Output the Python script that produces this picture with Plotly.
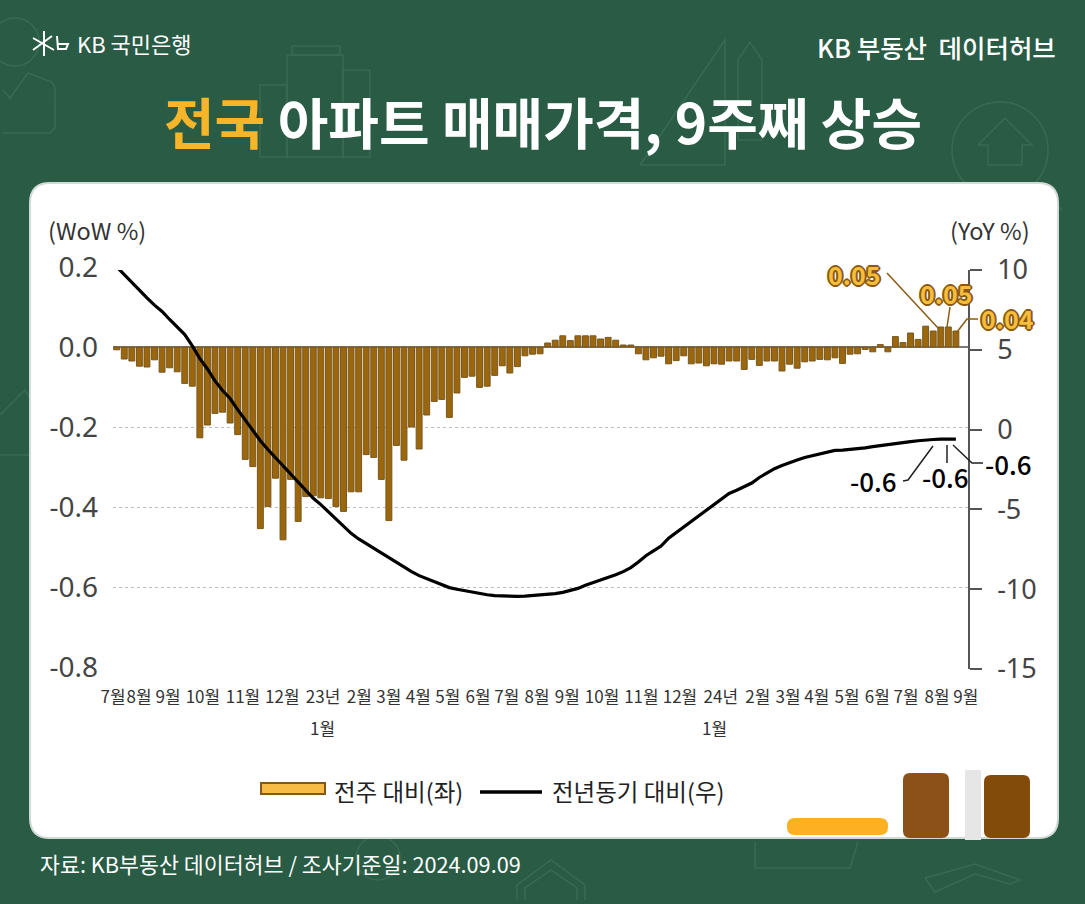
import pandas as pd
import plotly.graph_objects as go
from plotly.subplots import make_subplots

W, H = 1085, 904
GREEN = "#295B45"
ICON = "#386B53"
FONT = "Noto Sans CJK KR"


def px(x):
    return x / W


def py(y):
    return 1 - y / H


def line_shape(points, color, width=1.5, layer="above"):
    """points are pixel pairs of the page, joined into one open path"""
    path = "M " + " L ".join(f"{px(x):.5f},{py(y):.5f}" for x, y in points)
    return dict(type="path", xref="paper", yref="paper", path=path, line=dict(color=color, width=width), layer=layer)


def icon_line(points):
    return line_shape(points, ICON, 1.5, "below")


def box_shape(x0, y0, x1, y1, r, fill, line=None):
    """rounded box given in pixels of the page"""
    rx, ry = r / W, r / H
    l, t, g, b = px(x0), py(y0), px(x1), py(y1)
    path = (f"M {l+rx:.5f},{t:.5f} L {g-rx:.5f},{t:.5f} Q {g:.5f},{t:.5f} {g:.5f},{t-ry:.5f} "
            f"L {g:.5f},{b+ry:.5f} Q {g:.5f},{b:.5f} {g-rx:.5f},{b:.5f} "
            f"L {l+rx:.5f},{b:.5f} Q {l:.5f},{b:.5f} {l:.5f},{b+ry:.5f} "
            f"L {l:.5f},{t-ry:.5f} Q {l:.5f},{t:.5f} {l+rx:.5f},{t:.5f} Z")
    return dict(type="path", xref="paper", yref="paper", path=path, fillcolor=fill, layer="below",
                line=dict(color=line or fill, width=2 if line else 0))


def icon_box(x0, y0, x1, y1):
    return dict(type="rect", xref="paper", yref="paper", x0=px(x0), y0=py(y0), x1=px(x1), y1=py(y1), line=dict(color=ICON, width=1.5), layer="below")


def icon_circle(cx, cy, r):
    return dict(type="circle", xref="paper", yref="paper", x0=px(cx - r), y0=py(cy - r), x1=px(cx + r), y1=py(cy + r), line=dict(color=ICON, width=1.5), layer="below")


def label(x, y, text, size, color, anchor="center", shadow=None, weight=400):
    return dict(xref="paper", yref="paper", x=px(x), y=py(y), text=text, showarrow=False, xanchor=anchor, yanchor="middle",
                font=dict(family=FONT, size=size, color=color, shadow=shadow or "none", weight=weight))


def plot_chart(df: pd.DataFrame, month_ticks: dict) -> None:
    """
    Args:
        df (pd.DataFrame): weekly table with the columns wow, yoy
        month_ticks (dict): week position -> month label

    Writes the page with the WoW bars (left scale) and the YoY line (right scale)
    """
    fig = make_subplots(rows=1, cols=1, specs=[[{"secondary_y": True}]])

    ### Bars
    fig.add_trace(
        go.Bar(x=df.index, y=df["wow"], name="전주 대비(좌)", width=0.78, marker=dict(color="#9C670C", line=dict(color="#75571F", width=1))),
        secondary_y=False
    )

    ### Line
    fig.add_trace(
        go.Scatter(x=df.index, y=df["yoy"], mode="lines", name="전년동기 대비(우)", cliponaxis=False, line=dict(color="black", width=3.2)),
        secondary_y=True
    )

    ### Axes
    fig.update_xaxes(domain=[px(113), px(968)], range=[-0.49, 112.6], tickmode="array", tickvals=list(month_ticks.keys()),
                     ticktext=list(month_ticks.values()), tickangle=0, showgrid=False, showline=False, ticks="", automargin=False,
                     ticklabelstandoff=18, tickfont=dict(family=FONT, size=17, color="#333333"))
    fig.update_layout(
        yaxis=dict(domain=[py(667), py(267)], range=[-0.8, 0.2], tickmode="array", tickvals=[0.2, 0, -0.2, -0.4, -0.6, -0.8], automargin=False,
                   ticktext=["0.2", "0.0", "-0.2", "-0.4", "-0.6", "-0.8"], tickfont=dict(family="Noto Sans", size=28, color="#444444"),
                   ticklabelstandoff=14, gridcolor="#BDBDBD", griddash="dot", gridwidth=1, zeroline=True, zerolinecolor="#7A7A7A", zerolinewidth=2),
        yaxis2=dict(overlaying="free", anchor="x", side="right", domain=[py(669), py(270)], range=[-15, 10], tickmode="array", automargin=False,
                    tickvals=[10, 5, 0, -5, -10, -15], ticktext=["10", "5", "0", "-5", "-10", "-15"], showgrid=False, zeroline=False,
                    showline=True, linecolor="#555555", linewidth=1.5, ticks="outside", ticklen=12, tickcolor="#555555", tickwidth=1.5,
                    ticklabelstandoff=10, tickfont=dict(family="Noto Sans", size=27, color="#444444")),
    )

    ### Panel and decorations
    shapes = [
        # faint icons on the green
        icon_circle(15, 42, 24),
        icon_line([(3, 90), (10, 98), (28, 73), (52, 82), (55, 88), (55, 128), (50, 133), (3, 133)]),
        icon_box(260, 85, 287, 157),
        icon_box(287, 55, 343, 157),
        icon_box(292, 46, 340, 55),
        icon_box(343, 70, 370, 157),
        icon_line([(640, 165), (725, 40), (725, 165), (640, 165)]),
        icon_line([(738, 140), (738, 60), (750, 42), (762, 60), (762, 140), (738, 140)]),
        icon_circle(1000, 150, 48),
        icon_line([(978, 145), (1005, 118), (1032, 145), (1022, 145), (1022, 165), (988, 165), (988, 145), (978, 145)]),
        icon_line([(1035, 183), (1062, 210)]),
        icon_line([(0, 415), (25, 390), (30, 398), (30, 455), (0, 455)]),
        icon_line([(517, 900), (517, 885), (551, 860), (585, 885), (585, 900)]),
        icon_line([(525, 900), (525, 888), (551, 870), (577, 888), (577, 900)]),
        icon_circle(378, 858, 22),
        icon_line([(755, 842), (755, 868), (850, 868), (858, 842)]),
        icon_line([(925, 878), (975, 864), (1020, 880), (1010, 884), (975, 874), (935, 892), (925, 878)]),
        # white panel and its corner blocks
        box_shape(30, 183, 1058, 838, 20, "white", "#D3DBD6"),
        box_shape(787, 818, 888, 835, 8, "#FDB022"),
        box_shape(903, 773, 949, 838, 7, "#8B5119"),
        box_shape(965, 770, 981, 840, 0, "#E6E6E6"),
        box_shape(984, 775, 1030, 838, 7, "#824B0A"),
        # KB mark
        line_shape([(33, 38), (54, 50)], "white", 2),
        line_shape([(33, 50), (52, 36)], "white", 2),
        line_shape([(44, 31), (44, 56)], "white", 2),
        line_shape([(57, 36), (58, 49), (66, 49), (68, 44), (58, 44)], "white", 2),
        # leaders of the bar labels
        line_shape([(887, 273), (938, 328)], "#8A5A14"),
        line_shape([(950, 307), (947, 327)], "#8A5A14"),
        line_shape([(978, 319), (967, 319), (957, 332)], "#8A5A14"),
        # leaders of the line labels
        line_shape([(903, 481), (908, 480), (933, 446)], "#222222"),
        line_shape([(947, 445), (947, 463)], "#222222"),
        line_shape([(953, 445), (972, 463), (983, 463)], "#222222"),
        # legend keys
        dict(type="rect", xref="paper", yref="paper", x0=px(261), y0=py(794), x1=px(325), y1=py(783), fillcolor="#F6BC45", line=dict(color="#85581A", width=2), layer="above"),
        line_shape([(480, 792), (542, 792)], "black", 3.5),
    ]

    outline = ", ".join(f"{a}px {b}px 0 #8A5A14" for a, b in [(-2, 0), (2, 0), (0, -2), (0, 2), (-1, -1), (1, -1), (-1, 1), (1, 1)])
    big_title = "<span style='color:#F7B529'>전국</span> 아파트 매매가격, 9주째 상승"
    annotations = [
        label(543, 120, big_title, 55, "white", weight=700),
        label(75, 43, "KB 국민은행", 22, "white", "left"),
        label(1058, 46, "KB 부동산  데이터허브", 25.5, "white", "right", weight=500),
        label(38, 863, "자료: KB부동산 데이터허브 / 조사기준일: 2024.09.09", 21.7, "white", "left"),
        label(46, 230, "(WoW %)", 23.5, "#333333", "left"),
        label(1032, 230, "(YoY %)", 23.5, "#333333", "right"),
        label(322, 727, "1월", 17, "#333333"),
        label(714, 727, "1월", 17, "#333333"),
        label(854, 274, "0.05", 25, "#F6BE3A", shadow=outline, weight=700),
        label(946, 293, "0.05", 25, "#F6BE3A", shadow=outline, weight=700),
        label(1007, 318, "0.04", 25, "#F6BE3A", shadow=outline, weight=700),
        label(873, 480, "-0.6", 26, "black", weight=500),
        label(945, 477, "-0.6", 26, "black", weight=500),
        label(1008, 463, "-0.6", 26, "black", weight=500),
        label(332, 791, "전주 대비(좌)", 23.5, "#222222", "left"),
        label(550, 791, "전년동기 대비(우)", 23.5, "#222222", "left"),
    ]

    fig.update_layout(width=W, height=H, margin=dict(l=0, r=0, t=0, b=0), paper_bgcolor=GREEN, plot_bgcolor="rgba(0,0,0,0)",
                      showlegend=False, bargap=0.16, shapes=shapes, annotations=annotations)

    fig.write_html("out.html", config={"displayModeBar": False},
                   post_script="document.body.style.margin='0';document.body.style.overflow='hidden';")


wow = [-0.007, -0.03, -0.035, -0.048, -0.05, -0.032, -0.063, -0.052, -0.062, -0.091,
       -0.098, -0.227, -0.195, -0.166, -0.163, -0.19, -0.219, -0.281, -0.299, -0.454,
       -0.399, -0.328, -0.482, -0.331, -0.436, -0.374, -0.372, -0.377, -0.379, -0.399,
       -0.411, -0.362, -0.362, -0.269, -0.276, -0.331, -0.434, -0.246, -0.283, -0.2,
       -0.255, -0.17, -0.136, -0.131, -0.176, -0.115, -0.076, -0.073, -0.101, -0.098,
       -0.071, -0.047, -0.065, -0.049, -0.022, -0.018, -0.017, 0.01, 0.017, 0.028,
       0.016, 0.028, 0.028, 0.028, 0.02, 0.024, 0.017, 0.005, 0.005, -0.017,
       -0.032, -0.027, -0.023, -0.042, -0.034, -0.022, -0.042, -0.04, -0.047, -0.042,
       -0.043, -0.035, -0.035, -0.056, -0.031, -0.046, -0.035, -0.035, -0.06, -0.043,
       -0.053, -0.037, -0.035, -0.031, -0.032, -0.027, -0.041, -0.018, -0.017, -0.006,
       -0.012, 0.006, -0.012, 0.026, 0.011, 0.035, 0.019, 0.052, 0.04, 0.05,
       0.05, 0.04]

yoy = [10.2, 9.7, 9.25, 8.7, 8.25, 7.8, 7.4, 6.9, 6.45, 5.95,
       5.25, 4.45, 3.8, 3.05, 2.45, 1.95, 1.25, 0.6, -0.05, -0.7,
       -1.25, -1.75, -2.3, -2.8, -3.3, -3.8, -4.3, -4.7, -5.15, -5.6,
       -6.0, -6.5, -6.85, -7.15, -7.45, -7.7, -8.0, -8.35, -8.65, -8.9,
       -9.15, -9.35, -9.5, -9.7, -9.9, -10.0, -10.1, -10.2, -10.3, -10.35,
       -10.4, -10.42, -10.45, -10.45, -10.43, -10.4, -10.38, -10.33, -10.28, -10.2,
       -10.1, -9.95, -9.75, -9.6, -9.45, -9.3, -9.1, -8.9, -8.65, -8.3,
       -7.9, -7.6, -7.3, -6.8, -6.45, -6.1, -5.75, -5.4, -5.0, -4.7,
       -4.3, -4.0, -3.8, -3.6, -3.35, -3.0, -2.7, -2.45, -2.25, -2.05,
       -1.9, -1.75, -1.65, -1.5, -1.4, -1.3, -1.28, -1.25, -1.2, -1.15,
       -1.07, -1.0, -0.95, -0.88, -0.82, -0.75, -0.7, -0.65, -0.62, -0.6,
       -0.6, -0.6]

# label centres do not sit on even weeks in the picture
month_ticks = {-0.49: "7월", 2.95: "8월", 6.8: "9월", 11.4: "10월", 16.7: "11월", 21.9: "12월", 27.3: "23년",
               32.1: "2월", 36: "3월", 39.9: "4월", 43.8: "5월", 47.8: "6월", 51.6: "7월", 55.6: "8월", 59.6: "9월",
               64.2: "10월", 69.4: "11월", 74.5: "12월", 79.9: "24년", 84.8: "2월", 88.8: "3월", 92.6: "4월",
               96.6: "5월", 100.6: "6월", 104.4: "7월", 108.5: "8월", 112.3: "9월"}

df = pd.DataFrame({"wow": wow, "yoy": yoy})
plot_chart(df, month_ticks)
